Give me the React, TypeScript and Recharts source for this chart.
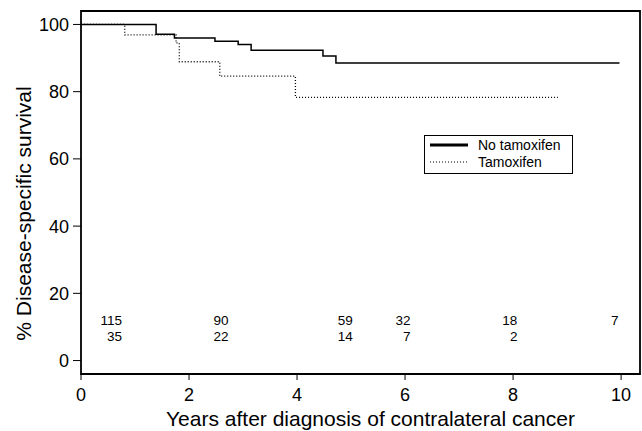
import React from "react";
import {
  ComposedChart,
  Line,
  Scatter,
  XAxis,
  YAxis,
  ReferenceArea,
} from "recharts";

// survival steps (years, %)
const noTamTimes = [0, 1.39, 1.73, 2.48, 2.91, 3.15, 4.48, 4.72, 9.97];
const noTamSurv = [100, 97.1, 96.0, 95.0, 94.0, 92.3, 90.6, 88.5, 88.5];
const tamTimes = [0, 0.81, 1.76, 1.82, 2.57, 3.97, 8.83];
const tamSurv = [100, 96.9, 94.5, 88.9, 84.6, 78.3, 78.3];

// numbers at risk (right edge of each label, in years)
const atRiskTimes = [0.76, 2.73, 5.03, 6.1, 8.08, 9.95];
const atRiskNoTam = ["115", "90", "59", "32", "18", "7"];
const atRiskTam = ["35", "22", "14", "7", "2", ""];

const xTicks = [0, 2, 4, 6, 8, 10];
const yTicks = [0, 20, 40, 60, 80, 100];

const FONT = "'Liberation Sans', Arial, Helvetica, sans-serif";

const noTamData = noTamTimes.map((t, i) => ({ t, s: noTamSurv[i] }));
const tamData = tamTimes.map((t, i) => ({ t, s: tamSurv[i] }));
const riskData = [
  ...atRiskTimes.map((t, i) => ({ t, s: 11.8, label: atRiskNoTam[i] })),
  ...atRiskTimes.map((t, i) => ({ t, s: 7.1, label: atRiskTam[i] })),
].filter((d) => d.label !== "");

const RiskLabel = (props: any) => {
  const { cx, cy, payload } = props;
  return (
    <text
      x={cx}
      y={cy}
      textAnchor="end"
      dominantBaseline="central"
      fontSize={13.5}
      fontFamily={FONT}
      fill="#000"
    >
      {payload.label}
    </text>
  );
};

const LegendBox = () => (
  <div
    style={{
      position: "absolute",
      left: 424,
      top: 135,
      width: 149,
      height: 39,
      boxSizing: "border-box",
      border: "1.5px solid #000",
      background: "#fff",
      fontFamily: FONT,
      fontSize: 14,
    }}
  >
    <svg width={40} height={36} style={{ position: "absolute", left: 5, top: 0 }}>
      <line x1={0} y1={9} x2={38} y2={9} stroke="#000" strokeWidth={3} />
      <line x1={0} y1={26} x2={38} y2={26} stroke="#000" strokeWidth={1} strokeDasharray="1 2" />
    </svg>
    <div style={{ position: "absolute", left: 53, top: 0, lineHeight: "18px" }}>No tamoxifen</div>
    <div style={{ position: "absolute", left: 53, top: 17, lineHeight: "18px" }}>Tamoxifen</div>
  </div>
);

export default function App() {
  return (
    <div style={{ position: "absolute", left: 0, top: 0, width: 642, height: 431, background: "#fff" }}>
      <ComposedChart
        width={642}
        height={431}
        margin={{ top: 11, right: 2, bottom: 0, left: 0 }}
      >
        <XAxis
          dataKey="t"
          type="number"
          domain={[0, 10.35]}
          ticks={xTicks}
          allowDataOverflow
          height={57}
          axisLine={false}
          tickLine={{ stroke: "#000" }}
          tickSize={6}
          tickMargin={8}
          tick={{ fill: "#000", fontSize: 18, fontFamily: FONT }}
          label={{
            value: "Years after diagnosis of contralateral cancer",
            position: "center",
            dx: 10,
            dy: 16,
            fill: "#000",
            fontSize: 21,
            fontFamily: FONT,
          }}
        />
        <YAxis
          dataKey="s"
          type="number"
          domain={[-4, 104]}
          ticks={yTicks}
          allowDataOverflow
          width={81}
          axisLine={false}
          tickLine={{ stroke: "#000" }}
          tickSize={8}
          tickMargin={4}
          tick={{ fill: "#000", fontSize: 18, fontFamily: FONT }}
          label={{
            value: "% Disease-specific survival",
            angle: -90,
            position: "center",
            dx: -17,
            dy: 21,
            fill: "#000",
            fontSize: 21,
            fontFamily: FONT,
          }}
        />
        <ReferenceArea
          x1={0}
          x2={10.35}
          y1={-4}
          y2={104}
          fill="none"
          stroke="#000"
          strokeWidth={1.8}
          ifOverflow="visible"
        />
        <Line
          data={noTamData}
          dataKey="s"
          type="stepAfter"
          stroke="#000"
          strokeWidth={1.5}
          dot={false}
          isAnimationActive={false}
          name="No tamoxifen"
        />
        <Line
          data={tamData}
          dataKey="s"
          type="stepAfter"
          stroke="#000"
          strokeWidth={1.3}
          strokeDasharray="1 2"
          dot={false}
          isAnimationActive={false}
          name="Tamoxifen"
        />
        <Scatter
          data={riskData}
          dataKey="s"
          shape={RiskLabel}
          isAnimationActive={false}
          legendType="none"
        />
      </ComposedChart>
      <LegendBox />
    </div>
  );
}
